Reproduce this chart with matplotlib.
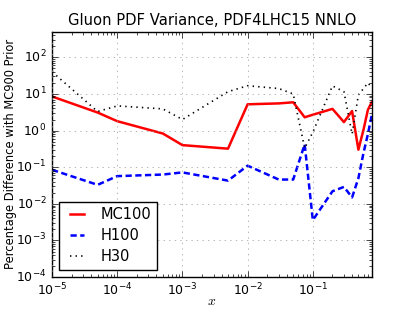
import matplotlib
matplotlib.use("Agg")
import matplotlib.pyplot as plt

x_vals = [1e-5, 5e-5, 1e-4, 5e-4, 1e-3, 5e-3, 1e-2, 3e-2, 5e-2, 7.5e-2,
          0.1, 0.2, 0.3, 0.4, 0.5, 0.6, 0.7, 0.8]
mc100 = [8.5, 3.1, 1.8, 0.83, 0.40, 0.32, 5.2, 5.5, 5.9, 2.3,
         2.7, 3.9, 1.7, 3.4, 0.30, 1.07, 3.7, 5.9]
h100 = [0.085, 0.033, 0.057, 0.063, 0.072, 0.043, 0.11, 0.046, 0.046, 0.42,
        0.0036, 0.022, 0.029, 0.015, 0.05, 0.25, 0.8, 2.6]
h30 = [40, 3.3, 4.7, 3.9, 2.0, 11.5, 16.7, 14, 10, 0.33,
       0.9, 16.5, 11.5, 0.8, 9.4, 14, 20, 15]

plt.style.use('classic')
plt.rcParams['figure.facecolor'] = 'white'
plt.rcParams['savefig.facecolor'] = 'white'

fig = plt.figure(figsize=(4.13, 3.10), dpi=100)
ax = fig.add_axes([0.126, 0.106, 0.774, 0.792])
ax.plot(x_vals, mc100, color='red', lw=1.8, ls='-', label='MC100')
ax.plot(x_vals, h100, color='blue', lw=1.8, ls='--', dashes=(4.5, 2.5), label='H100')
ax.plot(x_vals, h30, color='black', lw=1.2, ls=':', label='H30')
ax.set_xscale('log')
ax.set_yscale('log')
ax.set_xlim(1e-5, 0.8)
ax.set_ylim(1e-4, 5e2)
ax.grid(True, color='0.6', ls=':')
ax.set_title('Gluon PDF Variance, PDF4LHC15 NNLO', fontsize=10.6)
ax.set_xlabel('$x$', fontsize=10)
ax.set_ylabel('Percentage Difference with MC900 Prior', fontsize=8.3)
ax.yaxis.set_label_coords(-0.11, 0.5)
ax.tick_params(labelsize=9)
ax.tick_params(axis='x', which='both', pad=3)
ax.xaxis.set_label_coords(0.5, -0.068)
leg = ax.legend(loc='lower left', fontsize=10.5, handlelength=1.6,
                borderaxespad=0.5, labelspacing=0.4)
fig.savefig('out.png', dpi=100)
